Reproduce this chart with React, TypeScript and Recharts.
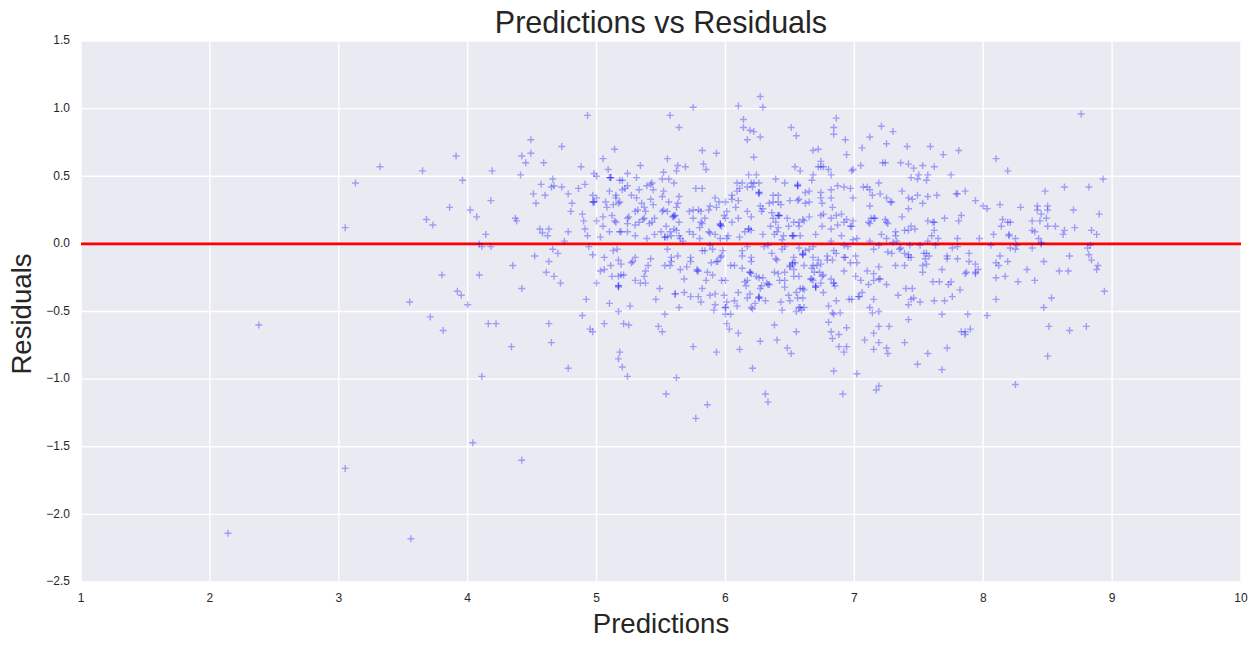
import React from "react";
import { ScatterChart, Scatter, XAxis, YAxis, CartesianGrid, ReferenceLine } from "recharts";

type P = [number, number];

const xTicks = [1, 2, 3, 4, 5, 6, 7, 8, 9, 10];
const yTicks = [-2.5, -2, -1.5, -1, -0.5, 0, 0.5, 1, 1.5];

const outliers: P[] = [[2.14,-2.14],[2.38,-.6],[3.05,-1.66],[3.56,-2.18],[4.04,-1.47],[4.42,-1.6],[4.11,-.98],[5.77,-1.29],
[3.13,.45],[3.05,.12],[3.32,.57],[3.65,.54],[3.91,.65],[3.96,.47],[3.86,.27],[3.68,.18],[3.73,.14],[4.02,.25],[4.07,.2],[4.18,.32],[4.19,.54],[4.14,.07],[4.41,.51],[4.49,.77],[4.42,.65],[4.49,.67],[4.45,.6],[4.59,.6],[4.66,.48],[4.57,.44],[4.65,.42],[4.67,.43],[4.51,.37],[4.6,.36],[4.53,.3],[4.37,.19],[4.38,.17],[4.56,.11],[4.58,.08],[4.63,.11],[4.62,.06],
[3.8,-.23],[4.09,-.23],[3.92,-.35],[3.95,-.38],[4,-.45],[3.55,-.43],[3.71,-.54],[3.81,-.64],[4.16,-.59],[4.22,-.59],[4.63,-.59],[4.34,-.76],[4.65,-.73],[4.11,-.02],[4.18,-.02],[4.09,0],[4.35,-.16],[4.52,-.09],[4.66,-.04],[4.7,-.07],[4.63,-.13],[4.61,-.21],[4.67,-.24],[4.42,-.33]];

const upperCentre: P[] = [[4.73,.72],[4.93,.95],[4.88,.57],[5.05,.63],[5.14,.7],[4.98,.52],[5,.5],[5.09,.55],[5.1,.49],[5.11,.49],[5.18,.47],[5.2,.47],[5.24,.52],[5.31,.49],[5.34,.58],[4.73,.42],[4.78,.37],[4.86,.41],[4.91,.44],[4.81,.3],[4.8,.24],[4.97,.36],[5,.34],[4.98,.31],[4.97,.31],[4.89,.22],[4.9,.17],[4.91,.11],[4.93,.06],[4.78,.09],[4.75,.02],[5,.17],[5.05,.2],[5.05,.13],[5.03,.05],[5.1,.09],
[5.1,.39],[5.15,.36],[5.15,.34],[5.07,.31],[5.08,.27],[5.13,.29],[5.18,.31],[5.17,.3],[5.2,.4],[5.22,.41],[5.24,.43],[5.27,.36],[5.31,.34],[5.33,.4],[5.39,.43],[5.42,.44],[5.43,.45],[5.44,.4],[5.42,.33],[5.44,.29],[5.51,.48],[5.52,.53],[5.56,.48],[5.6,.45],[5.55,.63],[5.62,.54],[5.63,.58],[5.69,.57],[5.52,.39],[5.51,.35],[5.56,.31],[5.64,.35],[5.63,.3],[5.62,.27],[5.57,.95],[5.64,.86],[5.75,1.01],
[5.82,.69],[5.93,.67],[5.83,.59],[5.85,.55],[5.77,.41],[5.82,.41],[5.92,.34],[5.88,.28],[5.87,.25],[5.95,.31],[6,.31],[5.93,.27],[5.72,.24],[5.75,.25],[5.79,.25],[5.81,.24],[5.75,.19],[5.84,.19],[5.81,.16],[5.82,.15],[5.8,.12],
[5.35,.3],[5.37,.27],[5.32,.25],[5.3,.24],[5.38,.24],[5.37,.19],[5.25,.2],[5.24,.19],[5.24,.15],[5.3,.14],[5.33,.16],[5.36,.18],[5.41,.15],[5.43,.16],[5.45,.19],[5.12,.21],[5.14,.17],[5.15,.16],[5.18,.09],[5.19,.09],[5.24,.09],[5.3,.06],[5.39,.04],[5.45,.07],[5.5,.09],[5.54,.13],[5.57,.09],[5.6,.11],[5.62,.1],[5.6,.2],[5.61,.21],[5.59,.2],[5.64,.16],[5.51,.24],[5.52,.25],[5.55,.24],[5.53,.05],[5.55,.05],[5.58,.06],[5.64,.06],[5.65,.04],[5.67,.02],[5.72,.09],[5.75,.07],[5.8,.04],[5.87,.09],[5.88,.08],[5.92,.07],[5.96,.14],[5.97,.13],[5.96,.15],[5.99,.21],[6.01,.24],[6,.19],[6.05,.16],[6.1,.19],[6.17,.24],[6.2,.2],[6.02,.06],[6.01,.04],[5.96,.04],[6.11,.05],[6.15,.09],[6.18,.11],[6.2,.1],[6.29,.07],
[6.08,.27],[6.1,.32],[6.05,.33],[6.05,.36],[6.09,.39],[6.11,.41],[6.09,.45],[6.13,.45],[6.17,.42],[6.2,.45],[6.22,.45],[6.26,.45],[6.21,.42],[6.26,.38],[6.26,.37],[6.18,.51],[6.24,.51],[6.22,.64],[6.1,1.02],[6.27,1.09],[6.29,1.01],[6.14,.92],[6.14,.86],[6.19,.84],[6.22,.83],[6.27,.79],[6.17,.77],
[6.27,.28],[6.29,.26],[6.28,.24],[6.34,.3],[6.37,.36],[6.41,.36],[6.37,.31],[6.41,.31],[6.43,.29],[6.39,.48],[6.46,.45],[6.5,.32],[6.57,.33],[6.56,.32],[6.56,.43],[6.56,.44],[6.54,.57],[6.58,.54],[6.51,.86],[6.55,.8],[6.36,.23],[6.37,.19],[6.41,.21],[6.42,.21],[6.35,.13],[6.39,.16],[6.41,.12],[6.4,.09],[6.38,.07],[6.48,.19],[6.49,.13],[6.53,.16],[6.45,.06],[6.44,.03],[6.52,.06],[6.53,.06],[6.58,.06],[6.57,.13],[6.57,.16],[6.6,.18],[6.61,.17],[6.65,.2],[6.62,.38],[6.65,.39],[6.65,.31],[6.62,.3],[6.67,.47],[6.68,.51],[6.68,.69],[6.72,.7],[6.74,.61],[6.72,.57],[6.74,.57],[6.76,.57],[6.8,.55],[6.82,.51],[6.74,.38],[6.74,.34],[6.75,.3],[6.82,.34],[6.82,.4],[6.87,.43],[6.83,.27],[6.74,.21],[6.76,.22],[6.75,.13],[6.82,.19],[6.86,.21],[6.9,.22],[6.82,.11],[6.87,.14],[6.7,.07],[6.82,.02],[6.9,.06],[6.92,.16],[6.94,.18],[6.99,.17],[6.97,.13],[6.98,.13],[6.92,.42],[6.97,.41],[6.99,.34],[6.98,.54],[6.99,.55],[6.94,.66],[6.93,.77],[6.86,.93],[6.84,.86],[6.84,.81],[6.99,.03],[7.02,.04]];

const lowerCentre: P[] = [[4.94,-.02],[4.97,-.08],[5.06,-.1],[5.13,-.05],[5.16,-.04],[5.17,-.12],[5.19,-.15],[5.11,-.16],[5.06,-.19],[5.03,-.2],[5.12,-.24],[5.17,-.24],[5.19,-.23],[5.21,-.23],[5.27,-.14],[5.28,-.13],[5.3,-.1],[5.42,-.11],[5.4,-.16],[5.38,-.2],[5.37,-.24],[5.3,-.27],[5.34,-.29],[5.38,-.29],[5,-.29],[4.72,-.29],[5.17,-.31],[5.17,-.32],[5.49,-.33],[4.92,-.41],[5.1,-.44],[5.26,-.46],[5.17,-.5],[5.46,-.41],[5.64,-.47],[5.53,-.52],[4.89,-.53],[5.06,-.59],[5.21,-.59],[5.25,-.6],[5.48,-.61],[5.51,-.65],[4.95,-.63],[4.97,-.65],[5.18,-.8],[5.17,-.85],[5.2,-.91],[5.24,-.98],[4.78,-.92],[5.62,-.99],[5.75,-.76],[5.93,-.8],[5.54,-1.11],[5.86,-1.19],[6.21,-.92],[6.31,-1.11],[6.33,-1.17],[6.91,-1.11],[6.84,-.94],[7.02,-.96],
[5.55,-.04],[5.53,-.16],[5.57,-.16],[5.58,-.13],[5.58,-.1],[5.63,-.09],[5.73,-.1],[5.73,-.13],[5.7,-.17],[5.65,-.19],[5.68,-.26],[5.79,-.2],[5.78,-.19],[5.86,-.21],[5.9,-.23],[5.85,-.27],[5.82,-.33],[5.61,-.37],[5.68,-.36],[5.73,-.39],[5.79,-.39],[5.81,-.43],[5.88,-.38],[5.92,-.37],[5.99,-.38],[5.92,-.45],[5.91,-.49],[6,-.47],[6.01,-.43],[6.07,-.42],[6.09,-.46],[6.1,-.36],[6,-.52],[6.04,-.52],[6.01,-.59],[6.03,-.63],[6.1,-.66],[6.27,-.72],[6.4,-.71],[6.38,-.6],[6.55,-.65],[6.11,-.78],[6.48,-.77],[6.51,-.81],
[5.97,-.27],[6,-.27],[5.89,-.14],[5.93,-.13],[5.94,-.13],[5.96,-.1],[5.97,-.09],[5.98,-.05],[5.82,-.05],[5.84,-.05],[5.88,-.01],[5.9,-.04],[6.13,-.05],[6.13,-.09],[6.2,-.1],[6.2,-.13],[6.04,-.16],[6.07,-.16],[6.13,-.18],[6.19,-.21],[6.2,-.22],[6.24,-.24],[6.26,-.25],[6.29,-.25],[6.34,-.3],[6.32,-.29],[6.28,-.31],[6.27,-.33],[6.15,-.28],[6.17,-.27],[6.16,-.31],[6.19,-.37],[6.17,-.4],[6.26,-.4],[6.26,-.39],[6.31,-.42],[6.23,-.44],[6.2,-.47],[6.21,-.48],[6.43,-.43],[6.44,-.49],[6.49,-.38],[6.5,-.42],[6.55,-.36],[6.56,-.4],[6.6,-.4],[6.58,-.33],[6.61,-.34],[6.6,-.33],[6.57,-.47],[6.58,-.47],[6.55,-.5],[6.61,-.47],[6.59,-.49],[6.76,-.36],[6.7,-.32],[6.7,-.31],[6.8,-.46],[6.86,-.42],[6.96,-.41],[6.98,-.41],[7.03,-.39],[6.83,-.51],[6.89,-.51],[6.84,-.52],[6.8,-.58],[6.94,-.62],[6.82,-.65],[6.88,-.67],[6.83,-.7],[6.88,-.76],[6.94,-.76],[6.92,-.8],
[6.17,-.02],[6.3,-.02],[6.33,-.01],[6.36,-.07],[6.39,-.11],[6.4,-.12],[6.44,-.04],[6.46,-.02],[6.53,-.1],[6.5,-.16],[6.52,-.14],[6.54,-.14],[6.5,-.17],[6.46,-.21],[6.53,-.19],[6.38,-.21],[6.41,-.22],[6.42,-.27],[6.46,-.27],[6.46,-.32],[6.53,-.24],[6.57,-.24],[6.6,-.08],[6.6,-.07],[6.57,-.03],[6.65,-.04],[6.68,-.02],[6.62,-.05],[6.68,-.1],[6.72,-.12],[6.61,-.16],[6.68,-.16],[6.67,-.18],[6.71,-.16],[6.74,-.15],[6.69,-.21],[6.73,-.21],[6.66,-.26],[6.68,-.27],[6.76,-.23],[6.75,-.24],[6.74,-.29],[6.84,-.05],[6.86,-.07],[6.79,-.09],[6.79,-.12],[6.83,-.12],[6.92,-.1],[6.93,-.1],[6.92,-.2],[6.97,-.14],[7.01,-.09],[7.02,-.14],[7.01,-.24],[6.82,-.26],[6.84,-.29],[6.85,-.31],[6.92,-.01],[6.95,-.02]];

const upperRight: P[] = [[7.21,.87],[7.12,.79],[7.3,.83],[7.06,.71],[7.25,.74],[7.41,.72],[7.59,.72],[7.69,.66],[7.81,.69],[7.05,.58],[7.22,.6],[7.24,.6],[7.36,.6],[7.42,.59],[7.46,.56],[7.53,.58],[7.62,.57],[7.5,.51],[7.57,.51],[7.44,.49],[7.49,.48],[7.56,.47],[7.75,.51],[7.19,.45],[7.07,.42],[7.1,.42],[7.12,.4],[7.2,.37],[7.14,.36],[7.37,.39],[7.25,.34],[7.28,.31],[7.29,.31],[7.42,.34],[7.45,.33],[7.49,.36],[7.57,.35],[7.64,.36],[7.53,.3],[7.79,.37],[7.8,.37],[7.86,.39],[7.94,.32],[7.12,.28],[7.42,.26],[7.37,.2],[7.83,.21],[7.81,.17],[7.7,.19],[7.57,.17],[7.61,.16],[7.62,.16],[7.13,.19],[7.16,.19],[7.15,.19],[7.11,.16],[7.12,.15],[7.24,.18],[7.25,.16],[7.26,.15],[7.44,.13],[7.39,.1],[7.42,.1],[7.47,.11],[7.62,.1],[7.6,.06],[7.65,.04],[7.57,.02],[7.21,.07],[7.25,.04],[7.32,.09],[7.32,.06],[7.12,.02],[7.3,.01],[7.33,.02],[7.8,.04],[7.97,.04],
[8.1,.63],[8.19,.54],[8.76,.96],[8.93,.48],[8.48,.39],[8.63,.42],[8.82,.42],[8.13,.29],[8,.28],[8.03,.26],[8.29,.27],[8.42,.28],[8.42,.25],[8.5,.28],[8.5,.25],[8.7,.25],[8.9,.22],[8.45,.22],[8.49,.19],[8.44,.17],[8.38,.17],[8.15,.18],[8.21,.16],[8.19,.16],[8.14,.13],[8.5,.13],[8.56,.13],[8.71,.12],[8.63,.1],[8.62,.07],[8.84,.1],[8.88,.07],[8.08,.07],[8.2,.07],[8.2,.06],[8.38,.1],[8.4,.09],[8.25,.04],[8.43,.04],[8.45,.01]];

const lowerRight: P[] = [[7.15,-.04],[7.19,-.01],[7.35,-.04],[7.36,-.03],[7.26,-.06],[7.29,-.07],[7.39,-.07],[7.42,-.08],[7.42,-.1],[7.44,-.1],[7.43,-.01],[7.51,-.01],[7.63,-.01],[7.76,-.03],[7.8,-.02],[7.54,-.07],[7.56,-.07],[7.58,-.09],[7.55,-.11],[7.72,-.09],[7.72,-.11],[7.8,-.11],[7.89,-.07],[7.89,-.13],[7.94,-.15],[7.32,-.16],[7.39,-.16],[7.19,-.17],[7.56,-.15],[7.53,-.16],[7.53,-.21],[7.68,-.19],[7.1,-.2],[7.15,-.22],[7.19,-.26],[7.2,-.26],[7.15,-.27],[7.05,-.27],[7.11,-.3],[7.25,-.3],[7.96,-.19],[7.94,-.22],[7.94,-.21],[7.86,-.22],[7.87,-.21],[7.61,-.28],[7.66,-.28],[7.73,-.3],[7.75,-.28],[7.4,-.33],[7.45,-.33],[7.82,-.34],[7.34,-.38],[7.06,-.36],[7.04,-.39],[7.15,-.41],[7.44,-.41],[7.46,-.4],[7.51,-.43],[7.62,-.42],[7.7,-.42],[7.76,-.39],[7.42,-.45],[7.12,-.47],[7.14,-.51],[7.19,-.5],[7.42,-.56],[7.68,-.52],[7.88,-.52],[7.19,-.61],[7.27,-.61],[7.15,-.66],[7.08,-.71],[7.19,-.73],[7.39,-.73],[7.15,-.78],[7.25,-.77],[7.26,-.81],[7.57,-.81],[7.72,-.77],[7.49,-.89],[7.68,-.93],[7.83,-.65],[7.86,-.65],[7.86,-.67],[7.9,-.63],[7.19,-1.05],[7.17,-1.08],
[8.06,-.01],[8.21,-.03],[8.25,-.04],[8.26,-.01],[8.38,-.03],[8.45,0],[8.13,-.09],[8.1,-.14],[8.12,-.16],[8.19,-.13],[8.47,-.13],[8.67,-.09],[8.34,-.19],[8.59,-.2],[8.66,-.2],[8.1,-.25],[8.17,-.24],[8.27,-.28],[8.4,-.27],[8.1,-.41],[8.53,-.4],[8.94,-.35],[8.47,-.47],[8.03,-.53],[8.51,-.61],[8.67,-.64],[8.8,-.61],[8.5,-.83],[8.25,-1.04],[8.82,-.08],[8.84,-.12],[8.89,-.16],[8.88,-.19],[8.81,-.03],[8.83,-.01]];

const clumps: P[] = [[6.19,-.21],[6.33,-.3],[6.6,-.08],[6.7,-.32],[6.67,-.26],[6.84,-.29],[5.17,-.31],[5.61,-.37],[6.26,-.4],[5.78,-.2],[6.52,-.15],[6,-.47],
[4.98,.31],[5.11,.49],[5.6,.21],[5.96,.14],[5.53,.05],[6.41,.21],[6.52,.06],[6.56,.43],[6.18,.11],[6.26,.38]];

const table = [...outliers, ...upperCentre, ...lowerCentre, ...upperRight, ...lowerRight, ...clumps].map(
  ([prediction, residual]) => ({ prediction, residual })
);

const FONT = "'Liberation Sans', Arial, sans-serif";
const INK = "#262626";

const Plus = (props: any) => {
  const { cx, cy } = props;
  return (
    <path
      d={`M${cx - 3.5} ${cy}H${cx + 3.5}M${cx} ${cy - 3.5}V${cy + 3.5}`}
      stroke="#0000ff"
      strokeOpacity={0.33}
      strokeWidth={1.4}
      fill="none"
    />
  );
};

const formatY = (v: number) => (v < 0 ? "\u2212" : "") + Math.abs(v).toFixed(1);

export default function App() {
  return (
    <div style={{ position: "absolute", left: 0, top: 0, width: 1260, height: 649 }}>
      <ScatterChart width={1260} height={649} margin={{ top: 41, right: 19, bottom: 37, left: 21 }}>
        <CartesianGrid stroke="#ffffff" strokeWidth={1.4} fill="#EAEAF2" fillOpacity={1} />
        <XAxis
          type="number"
          dataKey="prediction"
          domain={[1, 10]}
          ticks={xTicks}
          height={30}
          interval={0}
          allowDataOverflow
          axisLine={false}
          tickLine={false}
          tickSize={0}
          tickMargin={11}
          tick={{ fill: INK, fontSize: 12, fontFamily: FONT }}
        />
        <YAxis
          type="number"
          dataKey="residual"
          domain={[-2.5, 1.5]}
          ticks={yTicks}
          width={60}
          interval={0}
          allowDataOverflow
          axisLine={false}
          tickLine={false}
          tickSize={0}
          tickMargin={11}
          tickFormatter={formatY}
          tick={{ fill: INK, fontSize: 12, fontFamily: FONT, dy: -1 }}
        />
        <Scatter data={table} shape={Plus} isAnimationActive={false} />
        <ReferenceLine y={0} stroke="#ff0000" strokeWidth={2.6} />
        <text x={661} y={33} textAnchor="middle" fontSize={30.5} fontFamily={FONT} fill={INK}>
          Predictions vs Residuals
        </text>
        <text x={661} y={633} textAnchor="middle" fontSize={27.6} fontFamily={FONT} fill={INK}>
          Predictions
        </text>
        <text
          x={31}
          y={314}
          textAnchor="middle"
          fontSize={27.6}
          fontFamily={FONT}
          fill={INK}
          transform="rotate(-90 31 314)"
        >
          Residuals
        </text>
      </ScatterChart>
    </div>
  );
}
